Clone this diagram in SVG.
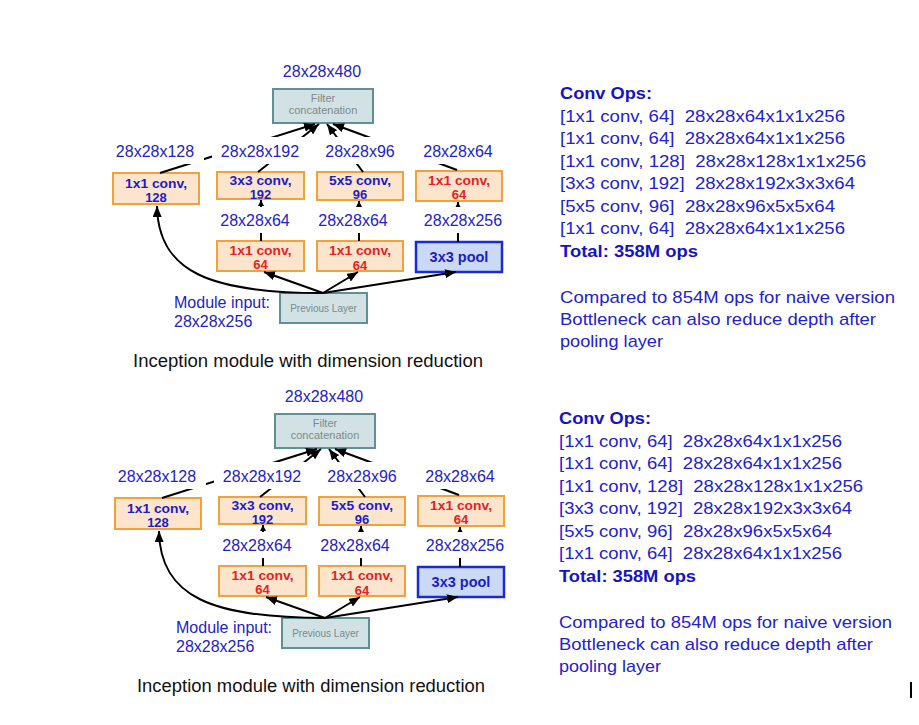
<svg xmlns="http://www.w3.org/2000/svg" width="919" height="725" viewBox="0 0 919 725">
<style>
.lbl{font-family:"Liberation Sans",Arial,sans-serif;font-size:16px;fill:#2323cc;text-anchor:middle}
.lbg{fill:#fff}
.ob{fill:#fde4cd;stroke:#f2a23a;stroke-width:2}
.pool{fill:#cad9f6;stroke:#1a2bd6;stroke-width:2.5}
.gray{fill:#d2e2e4;stroke:#5f9097;stroke-width:2}
.bt{font-family:"Liberation Sans",Arial,sans-serif;font-size:13px;font-weight:bold;text-anchor:middle}
.pt{font-size:14.5px}
.blue{fill:#1c1cc8}
.red{fill:#e8221e}
.gt{font-family:"Liberation Sans",Arial,sans-serif;fill:#7b8a8b;text-anchor:middle}
.con{stroke:#000;stroke-width:2;fill:none}
.cap{font-family:"Liberation Sans",Arial,sans-serif;font-size:17.5px;fill:#111}
.rt{font-family:"Liberation Sans",Arial,sans-serif;font-size:17px;fill:#2222d2;white-space:pre}
.rb{font-family:"Liberation Sans",Arial,sans-serif;font-size:17px;font-weight:bold;fill:#1414c4}
</style>
<defs>
<marker id="ah" viewBox="0 0 10 10" refX="10" refY="5" markerWidth="11" markerHeight="9" markerUnits="userSpaceOnUse" orient="auto" preserveAspectRatio="none"><path d="M0,0 L10,5 L0,10 z" fill="#000"/></marker>
<marker id="ahs" viewBox="0 0 10 10" refX="10" refY="5" markerWidth="6" markerHeight="6" markerUnits="userSpaceOnUse" orient="auto" preserveAspectRatio="none"><path d="M0,0 L10,5 L0,10 z" fill="#000"/></marker>
</defs>
<rect width="919" height="725" fill="#fff"/>

<!-- TOP DIAGRAM -->
<g id="top-diagram">
<g id="concat"><rect class="gray" x="273" y="89" width="100" height="34"/><text class="gt" x="323" y="102" font-size="11">Filter</text><text class="gt" x="323" y="114" font-size="11">concatenation</text></g>
<g id="conv1x1-128"><rect class="ob" x="113" y="173" width="86" height="31"/><text class="bt blue" x="156" y="187.5" textLength="62" lengthAdjust="spacingAndGlyphs">1x1 conv,</text><text class="bt blue" x="156" y="201.5">128</text></g>
<g id="conv3x3-192"><rect class="ob" x="217" y="172" width="87" height="27"/><text class="bt blue" x="260.5" y="184.5" textLength="62" lengthAdjust="spacingAndGlyphs">3x3 conv,</text><text class="bt blue" x="260.5" y="198.5">192</text></g>
<g id="conv5x5-96"><rect class="ob" x="317" y="172" width="86" height="28"/><text class="bt blue" x="360" y="184.5" textLength="62" lengthAdjust="spacingAndGlyphs">5x5 conv,</text><text class="bt blue" x="360" y="199">96</text></g>
<g id="conv1x1-64-pool"><rect class="ob" x="416" y="171" width="86" height="30"/><text class="bt red" x="459" y="184.5" textLength="62" lengthAdjust="spacingAndGlyphs">1x1 conv,</text><text class="bt red" x="459" y="199">64</text></g>
<g id="red1x1-a"><rect class="ob" x="217" y="241" width="87" height="30"/><text class="bt red" x="260.5" y="254.5" textLength="62" lengthAdjust="spacingAndGlyphs">1x1 conv,</text><text class="bt red" x="260.5" y="269">64</text></g>
<g id="red1x1-b"><rect class="ob" x="317" y="241" width="86" height="30"/><text class="bt red" x="360" y="255" textLength="62" lengthAdjust="spacingAndGlyphs">1x1 conv,</text><text class="bt red" x="360" y="269.5">64</text></g>
<g id="pool3x3"><rect class="pool" x="416" y="242" width="86" height="30"/><text class="bt pt blue" x="459" y="262">3x3 pool</text></g>
<g id="prev"><rect class="gray" x="280" y="293" width="87" height="30"/><text class="gt" x="323.5" y="312" font-size="10">Previous Layer</text></g>

<g id="connectors">
<line class="con" x1="160" y1="173" x2="315" y2="124" marker-end="url(#ah)"/>
<line class="con" x1="258" y1="172" x2="319" y2="124" marker-end="url(#ah)"/>
<line class="con" x1="363" y1="172" x2="327" y2="124" marker-end="url(#ah)"/>
<line class="con" x1="457" y1="170" x2="333" y2="124" marker-end="url(#ah)"/>
<line class="con" x1="261" y1="241" x2="261" y2="200" marker-end="url(#ahs)"/>
<line class="con" x1="359" y1="241" x2="359" y2="201" marker-end="url(#ahs)"/>
<line class="con" x1="458" y1="242" x2="458" y2="202" marker-end="url(#ahs)"/>
<path class="con" d="M323,293 C210,293 158,272 157,206" marker-end="url(#ah)"/>
<line class="con" x1="323" y1="293" x2="264" y2="272" marker-end="url(#ah)"/>
<line class="con" x1="323" y1="293" x2="358" y2="272" marker-end="url(#ah)"/>
<line class="con" x1="323" y1="293" x2="456" y2="272" marker-end="url(#ah)"/>
</g>

<g id="labels">
<text class="lbl" x="322" y="77">28x28x480</text>
<rect class="lbg" x="108" y="137" width="96" height="27"/>
<rect class="lbg" x="212" y="137" width="96" height="27"/>
<rect class="lbg" x="312" y="137" width="98" height="27"/>
<rect class="lbg" x="410" y="137" width="95" height="27"/>
<text class="lbl" x="155" y="157">28x28x128</text>
<text class="lbl" x="260" y="157">28x28x192</text>
<text class="lbl" x="360" y="157">28x28x96</text>
<text class="lbl" x="458" y="157">28x28x64</text>
<rect class="lbg" x="212" y="207" width="90" height="26"/>
<rect class="lbg" x="312" y="207" width="90" height="26"/>
<rect class="lbg" x="416" y="207" width="92" height="26"/>
<text class="lbl" x="255" y="226">28x28x64</text>
<text class="lbl" x="353" y="226">28x28x64</text>
<text class="lbl" x="463" y="226">28x28x256</text>
<text class="lbl" x="174" y="308" style="text-anchor:start">Module input:</text>
<text class="lbl" x="174" y="327" style="text-anchor:start">28x28x256</text>
<text class="cap" x="133" y="367" textLength="350" lengthAdjust="spacingAndGlyphs">Inception module with dimension reduction</text>
</g>
</g>

<g id="top-ops">
<text class="rb" x="560" y="99" textLength="92" lengthAdjust="spacingAndGlyphs">Conv Ops:</text>
<text class="rt" x="560" y="121.5" textLength="285" lengthAdjust="spacingAndGlyphs">[1x1 conv, 64]  28x28x64x1x1x256</text>
<text class="rt" x="560" y="144" textLength="285" lengthAdjust="spacingAndGlyphs">[1x1 conv, 64]  28x28x64x1x1x256</text>
<text class="rt" x="560" y="166.5" textLength="306" lengthAdjust="spacingAndGlyphs">[1x1 conv, 128]  28x28x128x1x1x256</text>
<text class="rt" x="560" y="189" textLength="295" lengthAdjust="spacingAndGlyphs">[3x3 conv, 192]  28x28x192x3x3x64</text>
<text class="rt" x="560" y="211.5" textLength="275" lengthAdjust="spacingAndGlyphs">[5x5 conv, 96]  28x28x96x5x5x64</text>
<text class="rt" x="560" y="234" textLength="285" lengthAdjust="spacingAndGlyphs">[1x1 conv, 64]  28x28x64x1x1x256</text>
<text class="rb" x="560" y="256.5" textLength="138" lengthAdjust="spacingAndGlyphs">Total: 358M ops</text>
<text class="rt" x="560" y="302.5" textLength="335" lengthAdjust="spacingAndGlyphs">Compared to 854M ops for naive version</text>
<text class="rt" x="560" y="324.5" textLength="316" lengthAdjust="spacingAndGlyphs">Bottleneck can also reduce depth after</text>
<text class="rt" x="560" y="346.5" textLength="103" lengthAdjust="spacingAndGlyphs">pooling layer</text>
</g>

<!-- BOTTOM DIAGRAM -->
<g id="bottom-diagram" transform="translate(2,325)">
<g id="concat-b"><rect class="gray" x="273" y="89" width="100" height="34"/><text class="gt" x="323" y="102" font-size="11">Filter</text><text class="gt" x="323" y="114" font-size="11">concatenation</text></g>
<g id="conv1x1-128-b"><rect class="ob" x="113" y="173" width="86" height="31"/><text class="bt blue" x="156" y="187.5" textLength="62" lengthAdjust="spacingAndGlyphs">1x1 conv,</text><text class="bt blue" x="156" y="201.5">128</text></g>
<g id="conv3x3-192-b"><rect class="ob" x="217" y="172" width="87" height="27"/><text class="bt blue" x="260.5" y="184.5" textLength="62" lengthAdjust="spacingAndGlyphs">3x3 conv,</text><text class="bt blue" x="260.5" y="198.5">192</text></g>
<g id="conv5x5-96-b"><rect class="ob" x="317" y="172" width="86" height="28"/><text class="bt blue" x="360" y="184.5" textLength="62" lengthAdjust="spacingAndGlyphs">5x5 conv,</text><text class="bt blue" x="360" y="199">96</text></g>
<g id="conv1x1-64-pool-b"><rect class="ob" x="416" y="171" width="86" height="30"/><text class="bt red" x="459" y="184.5" textLength="62" lengthAdjust="spacingAndGlyphs">1x1 conv,</text><text class="bt red" x="459" y="199">64</text></g>
<g id="red1x1-a-b"><rect class="ob" x="217" y="241" width="87" height="30"/><text class="bt red" x="260.5" y="254.5" textLength="62" lengthAdjust="spacingAndGlyphs">1x1 conv,</text><text class="bt red" x="260.5" y="269">64</text></g>
<g id="red1x1-b-b"><rect class="ob" x="317" y="241" width="86" height="30"/><text class="bt red" x="360" y="255" textLength="62" lengthAdjust="spacingAndGlyphs">1x1 conv,</text><text class="bt red" x="360" y="269.5">64</text></g>
<g id="pool3x3-b"><rect class="pool" x="416" y="242" width="86" height="30"/><text class="bt pt blue" x="459" y="262">3x3 pool</text></g>
<g id="prev-b"><rect class="gray" x="280" y="293" width="87" height="30"/><text class="gt" x="323.5" y="312" font-size="10">Previous Layer</text></g>

<g id="connectors-b">
<line class="con" x1="160" y1="173" x2="315" y2="124" marker-end="url(#ah)"/>
<line class="con" x1="258" y1="172" x2="319" y2="124" marker-end="url(#ah)"/>
<line class="con" x1="363" y1="172" x2="327" y2="124" marker-end="url(#ah)"/>
<line class="con" x1="457" y1="170" x2="333" y2="124" marker-end="url(#ah)"/>
<line class="con" x1="261" y1="241" x2="261" y2="200" marker-end="url(#ahs)"/>
<line class="con" x1="359" y1="241" x2="359" y2="201" marker-end="url(#ahs)"/>
<line class="con" x1="458" y1="242" x2="458" y2="202" marker-end="url(#ahs)"/>
<path class="con" d="M323,293 C210,293 158,272 157,206" marker-end="url(#ah)"/>
<line class="con" x1="323" y1="293" x2="264" y2="272" marker-end="url(#ah)"/>
<line class="con" x1="323" y1="293" x2="358" y2="272" marker-end="url(#ah)"/>
<line class="con" x1="323" y1="293" x2="456" y2="272" marker-end="url(#ah)"/>
</g>

<g id="labels-b">
<text class="lbl" x="322" y="77">28x28x480</text>
<rect class="lbg" x="108" y="137" width="96" height="27"/>
<rect class="lbg" x="212" y="137" width="96" height="27"/>
<rect class="lbg" x="312" y="137" width="98" height="27"/>
<rect class="lbg" x="410" y="137" width="95" height="27"/>
<text class="lbl" x="155" y="157">28x28x128</text>
<text class="lbl" x="260" y="157">28x28x192</text>
<text class="lbl" x="360" y="157">28x28x96</text>
<text class="lbl" x="458" y="157">28x28x64</text>
<rect class="lbg" x="212" y="207" width="90" height="26"/>
<rect class="lbg" x="312" y="207" width="90" height="26"/>
<rect class="lbg" x="416" y="207" width="92" height="26"/>
<text class="lbl" x="255" y="226">28x28x64</text>
<text class="lbl" x="353" y="226">28x28x64</text>
<text class="lbl" x="463" y="226">28x28x256</text>
<text class="lbl" x="174" y="308" style="text-anchor:start">Module input:</text>
<text class="lbl" x="174" y="327" style="text-anchor:start">28x28x256</text>
<text class="cap" x="135" y="367" textLength="348" lengthAdjust="spacingAndGlyphs">Inception module with dimension reduction</text>
</g>
</g>

<g id="bottom-ops" transform="translate(-1,325)">
<text class="rb" x="560" y="99" textLength="92" lengthAdjust="spacingAndGlyphs">Conv Ops:</text>
<text class="rt" x="560" y="121.5" textLength="283" lengthAdjust="spacingAndGlyphs">[1x1 conv, 64]  28x28x64x1x1x256</text>
<text class="rt" x="560" y="144" textLength="283" lengthAdjust="spacingAndGlyphs">[1x1 conv, 64]  28x28x64x1x1x256</text>
<text class="rt" x="560" y="166.5" textLength="304" lengthAdjust="spacingAndGlyphs">[1x1 conv, 128]  28x28x128x1x1x256</text>
<text class="rt" x="560" y="189" textLength="293" lengthAdjust="spacingAndGlyphs">[3x3 conv, 192]  28x28x192x3x3x64</text>
<text class="rt" x="560" y="211.5" textLength="273" lengthAdjust="spacingAndGlyphs">[5x5 conv, 96]  28x28x96x5x5x64</text>
<text class="rt" x="560" y="234" textLength="283" lengthAdjust="spacingAndGlyphs">[1x1 conv, 64]  28x28x64x1x1x256</text>
<text class="rb" x="560" y="256.5" textLength="137" lengthAdjust="spacingAndGlyphs">Total: 358M ops</text>
<text class="rt" x="560" y="302.5" textLength="333" lengthAdjust="spacingAndGlyphs">Compared to 854M ops for naive version</text>
<text class="rt" x="560" y="324.5" textLength="314" lengthAdjust="spacingAndGlyphs">Bottleneck can also reduce depth after</text>
<text class="rt" x="560" y="346.5" textLength="102" lengthAdjust="spacingAndGlyphs">pooling layer</text>
</g>

<rect id="mark" x="910" y="682" width="2" height="16" fill="#000"/>
</svg>
